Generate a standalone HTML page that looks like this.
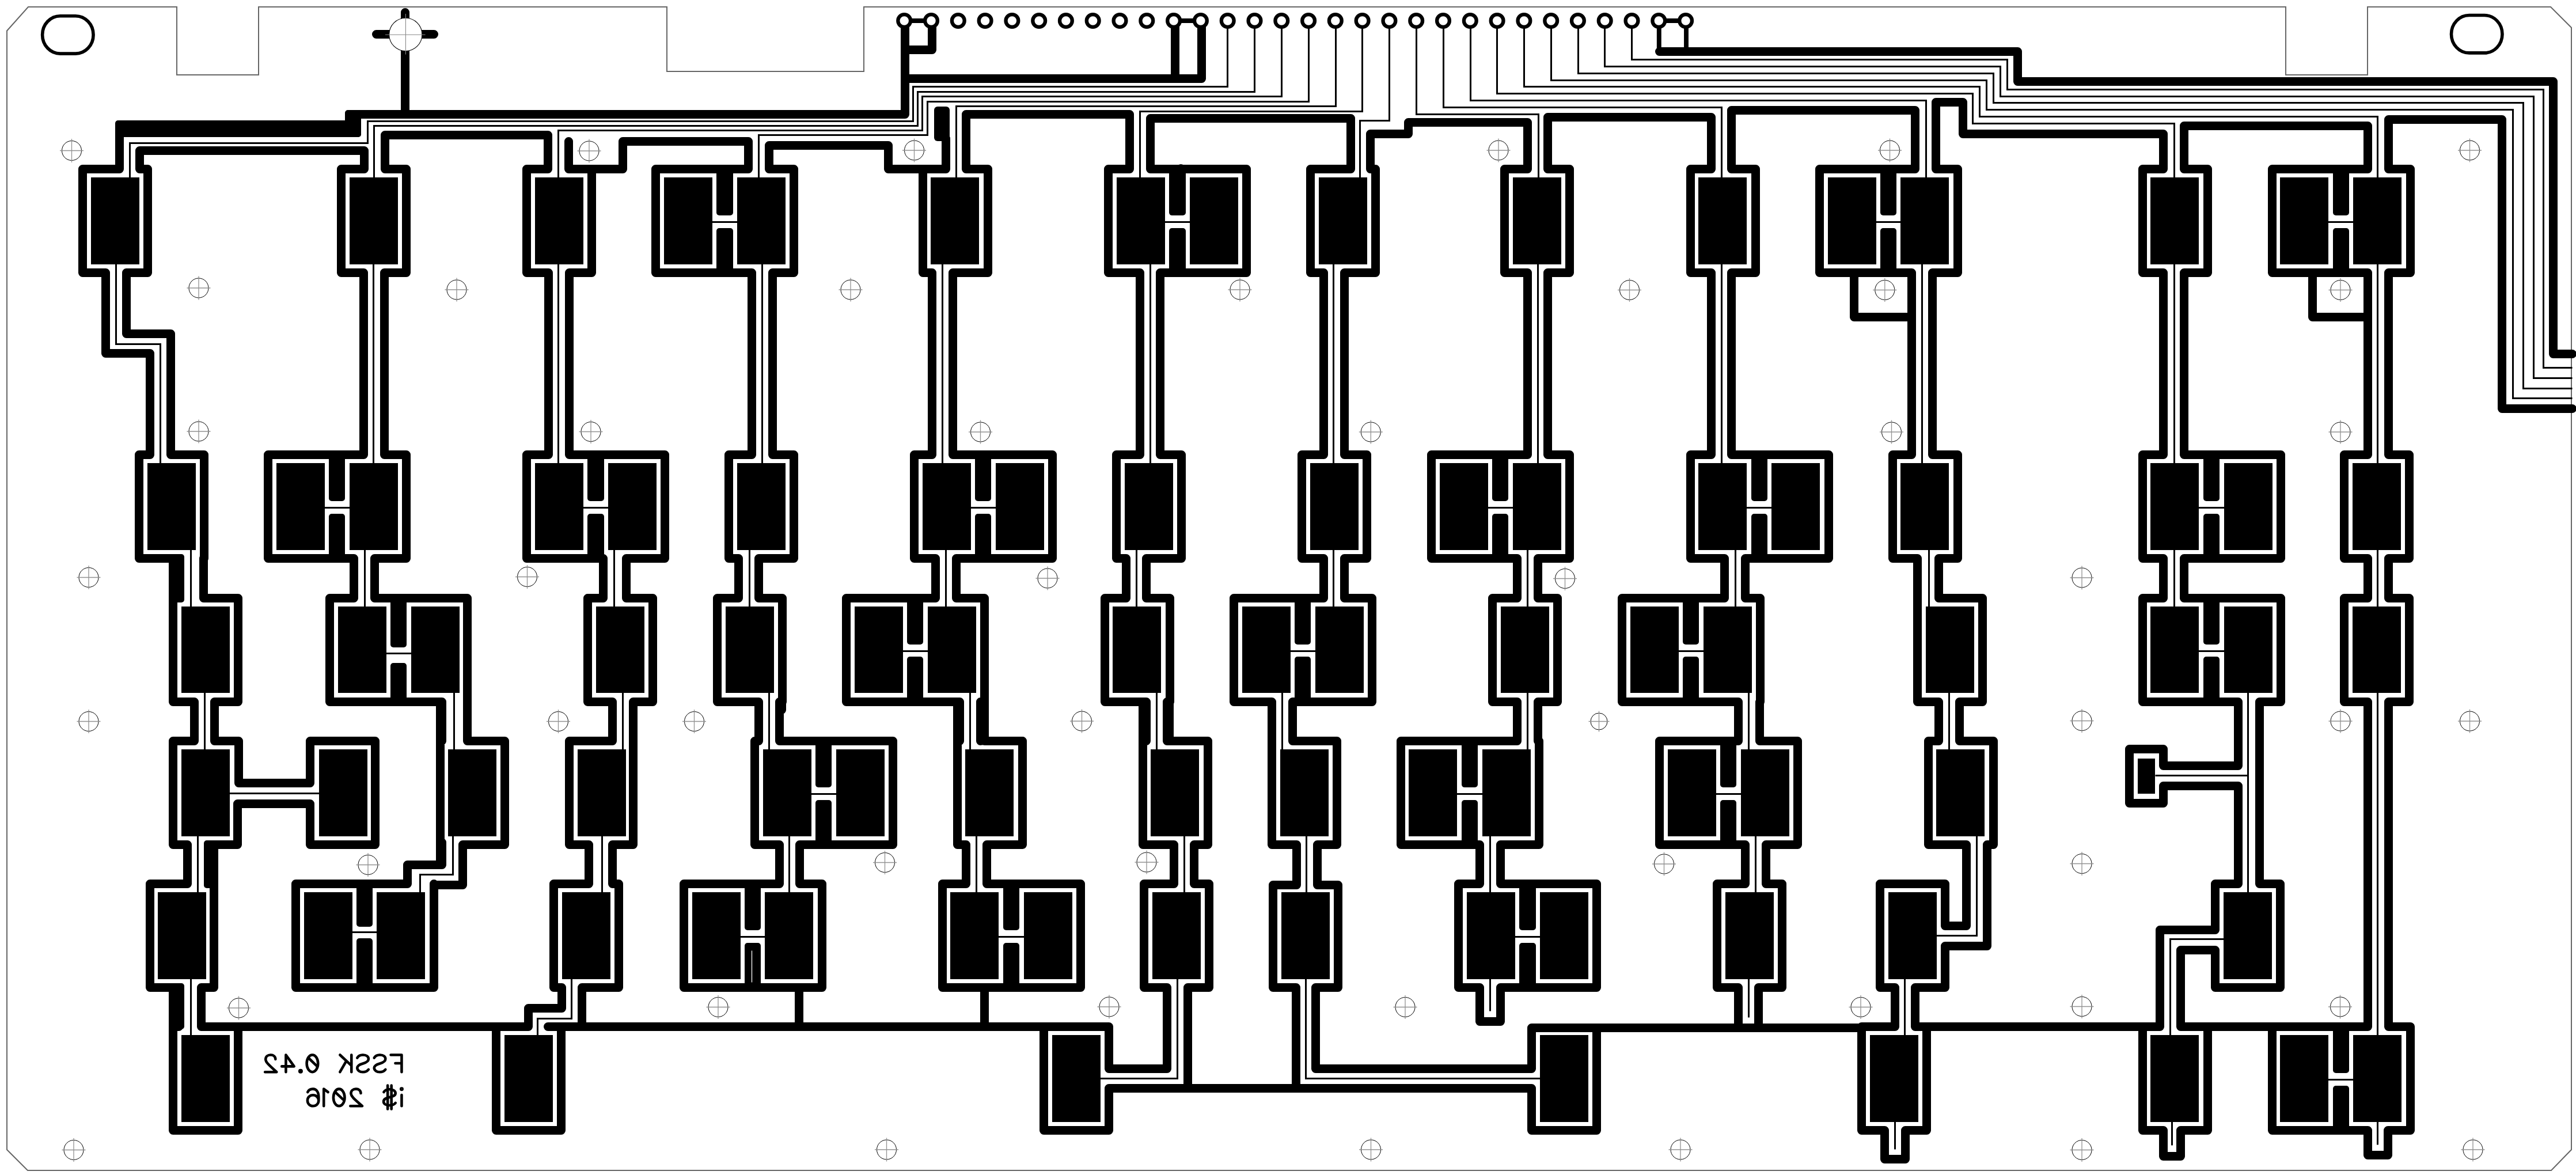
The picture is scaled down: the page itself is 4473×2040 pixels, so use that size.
<!DOCTYPE html>
<html><head><meta charset="utf-8"><title>FSSK 0.42</title>
<style>
html,body{margin:0;padding:0;background:#fff;}
body{width:4473px;height:2040px;overflow:hidden;font-family:"Liberation Sans",sans-serif;}
svg{display:block;}
</style></head><body>
<svg width="4473" height="2040" viewBox="0 0 4473 2040">
<rect width="4473" height="2040" fill="#fff"/>
<path d="M12 53.5L49 12L307 12L307 130L449 130L449 12L1158 12L1158 124L1500 124L1500 12L3969 12L3969 130L4111 130L4111 12L4429 12L4465 48L4465 1996L4430 2032L48 2032L12 1996Z" fill="none" stroke="#666" stroke-width="2"/>
<g fill="none" stroke="#000" stroke-width="15.0" stroke-linecap="round" stroke-linejoin="round">
<path d="M143.5 293.5L207.5 293.5M242.5 293.5L256.5 293.5M143.5 473.5L183.5 473.5M219.5 473.5L256.5 473.5M143.5 293.5L143.5 473.5M256.5 293.5L256.5 473.5M592.5 293.5L632.5 293.5M668.5 293.5L705.5 293.5M592.5 473.5L631.5 473.5M667.5 473.5L705.5 473.5M592.5 293.5L592.5 473.5M705.5 293.5L705.5 473.5M914.5 293.5L951.5 293.5M987.5 293.5L1027.5 293.5M914.5 473.5L952.5 473.5M988.5 473.5L1027.5 473.5M914.5 293.5L914.5 473.5M1027.5 293.5L1027.5 473.5M1138.5 293.5L1299.5 293.5M1335.5 293.5L1378.5 293.5M1138.5 473.5L1305.5 473.5M1341.5 473.5L1378.5 473.5M1138.5 293.5L1138.5 473.5M1378.5 293.5L1378.5 473.5M1602.5 293.5L1642.5 293.5M1677.5 293.5L1715.5 293.5M1602.5 473.5L1618.5 473.5M1654.5 473.5L1715.5 473.5M1602.5 293.5L1602.5 473.5M1715.5 293.5L1715.5 473.5M1924.5 293.5L1961.5 293.5M1997.5 293.5L2164.5 293.5M1924.5 473.5L1979.5 473.5M2014.5 473.5L2164.5 473.5M1924.5 293.5L1924.5 473.5M2164.5 293.5L2164.5 473.5M2275.5 293.5L2345.5 293.5M2379.5 293.5L2388.5 293.5M2275.5 473.5L2298.5 473.5M2334.5 473.5L2388.5 473.5M2275.5 293.5L2275.5 473.5M2388.5 293.5L2388.5 473.5M2612.5 293.5L2652.5 293.5M2687.5 293.5L2725.5 293.5M2612.5 473.5L2652.5 473.5M2687.5 473.5L2725.5 473.5M2612.5 293.5L2612.5 473.5M2725.5 293.5L2725.5 473.5M2935.5 293.5L2971.5 293.5M3006.5 293.5L3048.5 293.5M2935.5 473.5L2971.5 473.5M3006.5 473.5L3048.5 473.5M2935.5 293.5L2935.5 473.5M3048.5 293.5L3048.5 473.5M3159.5 293.5L3325.5 293.5M3361.5 293.5L3399.5 293.5M3159.5 473.5L3319.5 473.5M3355.5 473.5L3399.5 473.5M3159.5 293.5L3159.5 473.5M3399.5 293.5L3399.5 473.5M3720.5 293.5L3756.5 293.5M3792.5 293.5L3833.5 293.5M3720.5 473.5L3756.5 473.5M3792.5 473.5L3833.5 473.5M3720.5 293.5L3720.5 473.5M3833.5 293.5L3833.5 473.5M3945.5 293.5L4111.5 293.5M4147.5 293.5L4185.5 293.5M3945.5 473.5L4111.5 473.5M4147.5 473.5L4185.5 473.5M3945.5 293.5L3945.5 473.5M4185.5 293.5L4185.5 473.5M207.5 228.5L207.5 293.5M606.5 225.5L606.5 198.5L1571.5 198.5L1571.5 36.5M703.5 198.5L703.5 21.5M653.5 59.5L753.5 59.5M242.5 293.5L242.5 261.5L632.5 261.5L632.5 293.5M668.5 293.5L668.5 234.5L951.5 234.5L951.5 293.5M987.5 245.5L987.5 293.5L1081.5 293.5L1081.5 245.5L1299.5 245.5L1299.5 293.5M1335.5 293.5L1335.5 252.5L1542.5 252.5L1542.5 293.5L1642.5 293.5L1642.5 240.5M1677.5 293.5L1677.5 198.5L1961.5 198.5L1961.5 293.5M1997.5 293.5L1997.5 205.5L2345.5 205.5L2345.5 293.5M2379.5 293.5L2379.5 232.5L2445.5 232.5L2445.5 212.5L2652.5 212.5L2652.5 293.5M2687.5 293.5L2687.5 203.5L2971.5 203.5L2971.5 293.5M3006.5 293.5L3006.5 191.5L3325.5 191.5L3325.5 293.5M3361.5 293.5L3361.5 177.5L3408.5 177.5L3408.5 232.5L3756.5 232.5L3756.5 293.5M3792.5 293.5L3792.5 218.5L4111.5 218.5L4111.5 293.5M4147.5 293.5L4147.5 207.5L4344.5 207.5L4344.5 709.5L4466.5 709.5M2881.5 89.5L3503.5 89.5L3503.5 141.5L4433.5 141.5L4433.5 614.5L4466.5 614.5M1571.5 36.5L1571.5 136.5M1618.5 36.5L1618.5 86.5L1571.5 86.5M1571.5 136.5L2086.5 136.5L2086.5 36.5M2040.5 36.5L2040.5 136.5M183.5 473.5L183.5 613.5L260.5 613.5L260.5 789.5M219.5 473.5L219.5 579.5L296.5 579.5L296.5 789.5M631.5 473.5L631.5 789.5M667.5 473.5L667.5 789.5M952.5 473.5L952.5 789.5M988.5 473.5L988.5 789.5M1305.5 473.5L1305.5 789.5M1341.5 473.5L1341.5 789.5M1618.5 473.5L1618.5 789.5M1654.5 473.5L1654.5 789.5M1979.5 473.5L1979.5 789.5M2014.5 473.5L2014.5 789.5M2298.5 473.5L2298.5 789.5M2334.5 473.5L2334.5 789.5M2652.5 473.5L2652.5 789.5M2687.5 473.5L2687.5 789.5M2971.5 473.5L2971.5 789.5M3006.5 473.5L3006.5 789.5M3319.5 473.5L3319.5 789.5M3355.5 473.5L3355.5 789.5M3756.5 473.5L3756.5 789.5M3792.5 473.5L3792.5 789.5M4111.5 473.5L4111.5 789.5M4147.5 473.5L4147.5 789.5M3219.5 473.5L3219.5 550.5L3319.5 550.5M4015.5 473.5L4015.5 550.5L4111.5 550.5M241.5 789.5L260.5 789.5M296.5 789.5L354.5 789.5M241.5 969.5L310.5 969.5M353.5 969.5L354.5 969.5M241.5 789.5L241.5 969.5M354.5 789.5L354.5 969.5M465.5 789.5L631.5 789.5M667.5 789.5L705.5 789.5M465.5 969.5L614.5 969.5M650.5 969.5L705.5 969.5M465.5 789.5L465.5 969.5M705.5 789.5L705.5 969.5M914.5 789.5L952.5 789.5M988.5 789.5L1154.5 789.5M914.5 969.5L1047.5 969.5M1087.5 969.5L1154.5 969.5M914.5 789.5L914.5 969.5M1154.5 789.5L1154.5 969.5M1265.5 789.5L1305.5 789.5M1341.5 789.5L1378.5 789.5M1265.5 969.5L1282.5 969.5M1317.5 969.5L1378.5 969.5M1265.5 789.5L1265.5 969.5M1378.5 789.5L1378.5 969.5M1587.5 789.5L1618.5 789.5M1654.5 789.5L1827.5 789.5M1587.5 969.5L1624.5 969.5M1660.5 969.5L1827.5 969.5M1587.5 789.5L1587.5 969.5M1827.5 789.5L1827.5 969.5M1938.5 789.5L1979.5 789.5M2014.5 789.5L2051.5 789.5M1938.5 969.5L1955.5 969.5M1990.5 969.5L2051.5 969.5M1938.5 789.5L1938.5 969.5M2051.5 789.5L2051.5 969.5M2260.5 789.5L2298.5 789.5M2334.5 789.5L2373.5 789.5M2260.5 969.5L2298.5 969.5M2334.5 969.5L2373.5 969.5M2260.5 789.5L2260.5 969.5M2373.5 789.5L2373.5 969.5M2485.5 789.5L2652.5 789.5M2687.5 789.5L2725.5 789.5M2485.5 969.5L2634.5 969.5M2670.5 969.5L2725.5 969.5M2485.5 789.5L2485.5 969.5M2725.5 789.5L2725.5 969.5M2935.5 789.5L2971.5 789.5M3006.5 789.5L3175.5 789.5M2935.5 969.5L2994.5 969.5M3030.5 969.5L3175.5 969.5M2935.5 789.5L2935.5 969.5M3175.5 789.5L3175.5 969.5M3286.5 789.5L3319.5 789.5M3355.5 789.5L3399.5 789.5M3286.5 969.5L3329.5 969.5M3366.5 969.5L3399.5 969.5M3286.5 789.5L3286.5 969.5M3399.5 789.5L3399.5 969.5M3720.5 789.5L3756.5 789.5M3792.5 789.5L3960.5 789.5M3720.5 969.5L3756.5 969.5M3792.5 969.5L3960.5 969.5M3720.5 789.5L3720.5 969.5M3960.5 789.5L3960.5 969.5M4070.5 789.5L4111.5 789.5M4147.5 789.5L4183.5 789.5M4070.5 969.5L4111.5 969.5M4147.5 969.5L4183.5 969.5M4070.5 789.5L4070.5 969.5M4183.5 789.5L4183.5 969.5M353.5 969.5L353.5 1038.5M614.5 969.5L614.5 1038.5M650.5 969.5L650.5 1038.5M1047.5 969.5L1047.5 1038.5M1087.5 969.5L1087.5 1038.5M1282.5 969.5L1282.5 1038.5M1317.5 969.5L1317.5 1038.5M1624.5 969.5L1624.5 1038.5M1660.5 969.5L1660.5 1038.5M1955.5 969.5L1955.5 1038.5M1990.5 969.5L1990.5 1038.5M2298.5 969.5L2298.5 1038.5M2334.5 969.5L2334.5 1038.5M2634.5 969.5L2634.5 1038.5M2670.5 969.5L2670.5 1038.5M2994.5 969.5L2994.5 1038.5M3030.5 969.5L3030.5 1038.5M3329.5 969.5L3329.5 1038.5M3366.5 969.5L3366.5 1038.5M3756.5 969.5L3756.5 1038.5M3792.5 969.5L3792.5 1038.5M4111.5 969.5L4111.5 1038.5M4147.5 969.5L4147.5 1038.5M300.5 1038.5L310.5 1038.5M353.5 1038.5L413.5 1038.5M300.5 1218.5L337.5 1218.5M372.5 1218.5L413.5 1218.5M300.5 1038.5L300.5 1218.5M413.5 1038.5L413.5 1218.5M572.5 1038.5L614.5 1038.5M650.5 1038.5L811.5 1038.5M572.5 1218.5L767.5 1218.5M572.5 1038.5L572.5 1218.5M811.5 1038.5L811.5 1218.5M1020.5 1038.5L1047.5 1038.5M1087.5 1038.5L1133.5 1038.5M1020.5 1218.5L1063.5 1218.5M1099.5 1218.5L1133.5 1218.5M1020.5 1038.5L1020.5 1218.5M1133.5 1038.5L1133.5 1218.5M1245.5 1038.5L1282.5 1038.5M1317.5 1038.5L1358.5 1038.5M1245.5 1218.5L1317.5 1218.5M1353.5 1218.5L1358.5 1218.5M1245.5 1038.5L1245.5 1218.5M1358.5 1038.5L1358.5 1218.5M1469.5 1038.5L1624.5 1038.5M1660.5 1038.5L1709.5 1038.5M1469.5 1218.5L1666.5 1218.5M1702.5 1218.5L1709.5 1218.5M1469.5 1038.5L1469.5 1218.5M1709.5 1038.5L1709.5 1218.5M1918.5 1038.5L1955.5 1038.5M1990.5 1038.5L2031.5 1038.5M1918.5 1218.5L1990.5 1218.5M2026.5 1218.5L2031.5 1218.5M1918.5 1038.5L1918.5 1218.5M2031.5 1038.5L2031.5 1218.5M2142.5 1038.5L2298.5 1038.5M2334.5 1038.5L2382.5 1038.5M2142.5 1218.5L2208.5 1218.5M2244.5 1218.5L2382.5 1218.5M2142.5 1038.5L2142.5 1218.5M2382.5 1038.5L2382.5 1218.5M2591.5 1038.5L2634.5 1038.5M2670.5 1038.5L2704.5 1038.5M2591.5 1218.5L2634.5 1218.5M2670.5 1218.5L2704.5 1218.5M2591.5 1038.5L2591.5 1218.5M2704.5 1038.5L2704.5 1218.5M2816.5 1038.5L2994.5 1038.5M3030.5 1038.5L3056.5 1038.5M2816.5 1218.5L3018.5 1218.5M3055.5 1218.5L3056.5 1218.5M2816.5 1038.5L2816.5 1218.5M3056.5 1038.5L3056.5 1218.5M3366.5 1038.5L3442.5 1038.5M3329.5 1218.5L3366.5 1218.5M3402.5 1218.5L3442.5 1218.5M3329.5 1038.5L3329.5 1218.5M3442.5 1038.5L3442.5 1218.5M3720.5 1038.5L3756.5 1038.5M3792.5 1038.5L3960.5 1038.5M3720.5 1218.5L3886.5 1218.5M3923.5 1218.5L3960.5 1218.5M3720.5 1038.5L3720.5 1218.5M3960.5 1038.5L3960.5 1218.5M4070.5 1038.5L4111.5 1038.5M4147.5 1038.5L4183.5 1038.5M4070.5 1218.5L4111.5 1218.5M4147.5 1218.5L4183.5 1218.5M4070.5 1038.5L4070.5 1218.5M4183.5 1038.5L4183.5 1218.5M337.5 1218.5L337.5 1286.5M372.5 1218.5L372.5 1286.5M1063.5 1218.5L1063.5 1286.5M1099.5 1218.5L1099.5 1286.5M1317.5 1218.5L1317.5 1286.5M1353.5 1218.5L1353.5 1286.5M1666.5 1218.5L1666.5 1286.5M1702.5 1218.5L1702.5 1286.5M1990.5 1218.5L1990.5 1286.5M2026.5 1218.5L2026.5 1286.5M2208.5 1218.5L2208.5 1286.5M2244.5 1218.5L2244.5 1286.5M2634.5 1218.5L2634.5 1286.5M2670.5 1218.5L2670.5 1286.5M3018.5 1218.5L3018.5 1286.5M3055.5 1218.5L3055.5 1286.5M3366.5 1218.5L3366.5 1286.5M3402.5 1218.5L3402.5 1286.5M767.5 1218.5L767.5 1286.5M764.5 1218.5L764.5 1286.5M811.5 1218.5L811.5 1286.5L876.5 1286.5M1357.5 1218.5L1357.5 1232.5M1709.5 1218.5L1709.5 1286.5M1662.5 1218.5L1662.5 1286.5M2030.5 1218.5L2030.5 1286.5M1984.5 1218.5L1984.5 1286.5M3886.5 1218.5L3886.5 1329.5L3756.5 1329.5L3756.5 1300.5L3697.5 1300.5L3697.5 1394.5L3756.5 1394.5L3756.5 1364.5L3886.5 1364.5L3886.5 1534.5M3923.5 1218.5L3923.5 1534.5M4111.5 1218.5L4111.5 1782.5M4147.5 1218.5L4147.5 1782.5M337.5 1286.5L300.5 1286.5L300.5 1466.5L325.5 1466.5M372.5 1286.5L414.5 1286.5L414.5 1359.5L538.5 1359.5L538.5 1286.5L651.5 1286.5L651.5 1466.5L538.5 1466.5L538.5 1395.5L412.5 1395.5L412.5 1466.5L363.5 1466.5M764.5 1286.5L767.5 1286.5M803.5 1466.5L876.5 1466.5M764.5 1286.5L764.5 1466.5M876.5 1286.5L876.5 1466.5M811.5 1286.5L876.5 1286.5M988.5 1286.5L1063.5 1286.5M988.5 1466.5L1022.5 1466.5M1063.5 1466.5L1099.5 1466.5M988.5 1286.5L988.5 1466.5M1099.5 1286.5L1099.5 1466.5M1353.5 1286.5L1550.5 1286.5M1310.5 1466.5L1353.5 1466.5M1388.5 1466.5L1550.5 1466.5M1310.5 1286.5L1310.5 1466.5M1550.5 1286.5L1550.5 1466.5M1662.5 1286.5L1666.5 1286.5M1709.5 1286.5L1775.5 1286.5M1662.5 1466.5L1677.5 1466.5M1713.5 1466.5L1775.5 1466.5M1662.5 1286.5L1662.5 1466.5M1775.5 1286.5L1775.5 1466.5M1984.5 1286.5L1990.5 1286.5M2030.5 1286.5L2097.5 1286.5M1984.5 1466.5L2038.5 1466.5M2073.5 1466.5L2097.5 1466.5M1984.5 1286.5L1984.5 1466.5M2097.5 1286.5L2097.5 1466.5M2244.5 1286.5L2321.5 1286.5M2208.5 1466.5L2251.5 1466.5M2287.5 1466.5L2321.5 1466.5M2208.5 1286.5L2208.5 1466.5M2321.5 1286.5L2321.5 1466.5M2432.5 1286.5L2634.5 1286.5M2670.5 1286.5L2672.5 1286.5M2432.5 1466.5L2569.5 1466.5M2605.5 1466.5L2672.5 1466.5M2432.5 1286.5L2432.5 1466.5M2672.5 1286.5L2672.5 1466.5M2881.5 1286.5L3018.5 1286.5M3055.5 1286.5L3121.5 1286.5M2881.5 1466.5L3030.5 1466.5M3066.5 1466.5L3121.5 1466.5M2881.5 1286.5L2881.5 1466.5M3121.5 1286.5L3121.5 1466.5M3348.5 1286.5L3366.5 1286.5M3402.5 1286.5L3461.5 1286.5M3348.5 1466.5L3414.5 1466.5M3450.5 1466.5L3461.5 1466.5M3348.5 1286.5L3348.5 1466.5M3461.5 1286.5L3461.5 1466.5M325.5 1466.5L325.5 1534.5M1022.5 1466.5L1022.5 1534.5M1063.5 1466.5L1063.5 1534.5M1353.5 1466.5L1353.5 1534.5M1388.5 1466.5L1388.5 1534.5M1677.5 1466.5L1677.5 1534.5M1713.5 1466.5L1713.5 1534.5M2038.5 1466.5L2038.5 1534.5M2073.5 1466.5L2073.5 1534.5M2251.5 1466.5L2251.5 1534.5M2287.5 1466.5L2287.5 1534.5M2569.5 1466.5L2569.5 1534.5M2605.5 1466.5L2605.5 1534.5M3030.5 1466.5L3030.5 1534.5M3066.5 1466.5L3066.5 1534.5M764.5 1466.5L764.5 1501.5L707.5 1501.5L707.5 1534.5M767.5 1462.5L767.5 1501.5M803.5 1466.5L803.5 1536.5L753.5 1536.5M3414.5 1466.5L3414.5 1607.5L3378.5 1607.5M3450.5 1466.5L3450.5 1642.5L3378.5 1642.5M260.5 1534.5L325.5 1534.5M366.5 1534.5L371.5 1534.5M260.5 1714.5L310.5 1714.5M349.5 1714.5L371.5 1714.5M260.5 1534.5L260.5 1714.5M371.5 1534.5L371.5 1714.5M513.5 1534.5L707.5 1534.5M513.5 1714.5L753.5 1714.5M513.5 1534.5L513.5 1714.5M753.5 1534.5L753.5 1714.5M961.5 1534.5L1022.5 1534.5M1063.5 1534.5L1074.5 1534.5M961.5 1714.5L975.5 1714.5M1010.5 1714.5L1074.5 1714.5M961.5 1534.5L961.5 1714.5M1074.5 1534.5L1074.5 1714.5M1187.5 1534.5L1353.5 1534.5M1388.5 1534.5L1427.5 1534.5M1187.5 1714.5L1427.5 1714.5M1187.5 1534.5L1187.5 1714.5M1427.5 1534.5L1427.5 1714.5M1636.5 1534.5L1677.5 1534.5M1713.5 1534.5L1876.5 1534.5M1636.5 1714.5L1876.5 1714.5M1636.5 1534.5L1636.5 1714.5M1876.5 1534.5L1876.5 1714.5M1986.5 1534.5L2038.5 1534.5M2073.5 1534.5L2099.5 1534.5M1986.5 1714.5L2026.5 1714.5M2062.5 1714.5L2099.5 1714.5M1986.5 1534.5L1986.5 1714.5M2099.5 1534.5L2099.5 1714.5M2210.5 1536.5L2251.5 1536.5M2287.5 1536.5L2323.5 1536.5M2210.5 1714.5L2250.5 1714.5M2284.5 1714.5L2323.5 1714.5M2210.5 1536.5L2210.5 1714.5M2323.5 1536.5L2323.5 1714.5M2251.5 1534.5L2251.5 1536.5M2287.5 1534.5L2287.5 1536.5M2532.5 1534.5L2569.5 1534.5M2605.5 1534.5L2772.5 1534.5M2532.5 1714.5L2569.5 1714.5M2605.5 1714.5L2772.5 1714.5M2532.5 1534.5L2532.5 1714.5M2772.5 1534.5L2772.5 1714.5M2981.5 1534.5L3030.5 1534.5M3066.5 1534.5L3094.5 1534.5M2981.5 1714.5L3018.5 1714.5M3053.5 1714.5L3094.5 1714.5M2981.5 1534.5L2981.5 1714.5M3094.5 1534.5L3094.5 1714.5M3264.5 1534.5L3377.5 1534.5M3264.5 1714.5L3290.5 1714.5M3325.5 1714.5L3377.5 1714.5M3264.5 1534.5L3264.5 1714.5M3377.5 1534.5L3377.5 1607.5M3377.5 1642.5L3377.5 1714.5M3846.5 1534.5L3886.5 1534.5M3923.5 1534.5L3959.5 1534.5M3846.5 1714.5L3959.5 1714.5M3846.5 1534.5L3846.5 1614.5M3846.5 1649.5L3846.5 1714.5M3959.5 1534.5L3959.5 1714.5M349.5 1714.5L349.5 1782.5L917.5 1782.5M975.5 1714.5L975.5 1750.5L917.5 1750.5L917.5 1782.5M1010.5 1714.5L1010.5 1782.5M951.5 1782.5L1925.5 1782.5M1387.5 1714.5L1387.5 1782.5M1709.5 1714.5L1709.5 1782.5M2026.5 1714.5L2026.5 1855.5L1925.5 1855.5M2062.5 1714.5L2062.5 1889.5M2250.5 1714.5L2250.5 1889.5M2284.5 1714.5L2284.5 1855.5L2659.5 1855.5M1925.5 1889.5L2659.5 1889.5M2569.5 1714.5L2569.5 1773.5L2605.5 1773.5L2605.5 1714.5M3018.5 1714.5L3018.5 1784.5M3053.5 1714.5L3053.5 1784.5M3290.5 1714.5L3290.5 1782.5M3325.5 1714.5L3325.5 1782.5M2659.5 1784.5L3232.5 1784.5M3232.5 1782.5L3290.5 1782.5M3325.5 1782.5L3750.5 1782.5L3750.5 1614.5L3846.5 1614.5M3846.5 1649.5L3786.5 1649.5L3786.5 1782.5L4111.5 1782.5M300.5 1782.5L310.5 1782.5M349.5 1782.5L413.5 1782.5M300.5 1962.5L413.5 1962.5M300.5 1782.5L300.5 1962.5M413.5 1782.5L413.5 1962.5M861.5 1782.5L917.5 1782.5M951.5 1782.5L974.5 1782.5M861.5 1962.5L974.5 1962.5M861.5 1782.5L861.5 1962.5M974.5 1782.5L974.5 1962.5M1812.5 1782.5L1925.5 1782.5M1812.5 1962.5L1925.5 1962.5M1812.5 1782.5L1812.5 1962.5M1925.5 1782.5L1925.5 1855.5M1925.5 1889.5L1925.5 1962.5M2659.5 1784.5L2772.5 1784.5M2659.5 1962.5L2772.5 1962.5M2659.5 1784.5L2659.5 1855.5M2659.5 1889.5L2659.5 1962.5M2772.5 1784.5L2772.5 1962.5M3232.5 1782.5L3290.5 1782.5M3325.5 1782.5L3345.5 1782.5M3232.5 1962.5L3272.5 1962.5M3308.5 1962.5L3345.5 1962.5M3232.5 1782.5L3232.5 1962.5M3345.5 1782.5L3345.5 1962.5M3720.5 1782.5L3750.5 1782.5M3786.5 1782.5L3833.5 1782.5M3720.5 1962.5L3756.5 1962.5M3786.5 1962.5L3833.5 1962.5M3720.5 1782.5L3720.5 1962.5M3833.5 1782.5L3833.5 1962.5M3945.5 1782.5L4111.5 1782.5M4147.5 1782.5L4185.5 1782.5M3945.5 1962.5L4111.5 1962.5M4146.5 1962.5L4185.5 1962.5M3945.5 1782.5L3945.5 1962.5M4185.5 1782.5L4185.5 1962.5M3272.5 1962.5L3272.5 2012.5L3308.5 2012.5L3308.5 1962.5M3756.5 1962.5L3756.5 2007.5L3786.5 2007.5L3786.5 1962.5M4111.5 1962.5L4111.5 2005.5L4146.5 2005.5L4146.5 1962.5"/>
</g>
<g fill="#000">
<rect x="158" y="308" width="84" height="151"/><rect x="607" y="308" width="84" height="151"/><rect x="929" y="308" width="84" height="151"/><rect x="1153" y="308" width="84" height="151"/><rect x="1280" y="308" width="84" height="151"/><rect x="1244" y="288" width="29" height="86" rx="5"/><rect x="1244" y="396" width="29" height="80" rx="5"/><rect x="1616" y="308" width="84" height="151"/><rect x="1939" y="308" width="84" height="151"/><rect x="2066" y="308" width="84" height="151"/><rect x="2030" y="288" width="29" height="86" rx="5"/><rect x="2030" y="396" width="29" height="80" rx="5"/><rect x="2290" y="308" width="84" height="151"/><rect x="2627" y="308" width="84" height="151"/><rect x="2949" y="308" width="84" height="151"/><rect x="3174" y="308" width="84" height="151"/><rect x="3300" y="308" width="84" height="151"/><rect x="3265" y="288" width="28" height="86" rx="5"/><rect x="3265" y="396" width="28" height="80" rx="5"/><rect x="3734" y="308" width="84" height="151"/><rect x="3959" y="308" width="84" height="151"/><rect x="4086" y="308" width="84" height="151"/><rect x="4051" y="288" width="28" height="86" rx="5"/><rect x="4051" y="396" width="28" height="80" rx="5"/><rect x="200" y="209" width="427" height="29" rx="5"/><rect x="599" y="191" width="28" height="47" rx="5"/><rect x="1622" y="185" width="27" height="60" rx="6"/><rect x="256" y="804" width="84" height="151"/><rect x="480" y="804" width="84" height="151"/><rect x="607" y="804" width="84" height="151"/><rect x="571" y="784" width="28" height="86" rx="5"/><rect x="571" y="892" width="28" height="80" rx="5"/><rect x="929" y="804" width="84" height="151"/><rect x="1056" y="804" width="84" height="151"/><rect x="1020" y="784" width="29" height="86" rx="5"/><rect x="1020" y="892" width="29" height="80" rx="5"/><rect x="1280" y="804" width="84" height="151"/><rect x="1602" y="804" width="84" height="151"/><rect x="1729" y="804" width="84" height="151"/><rect x="1693" y="784" width="28" height="86" rx="5"/><rect x="1693" y="892" width="28" height="80" rx="5"/><rect x="1953" y="804" width="84" height="151"/><rect x="2275" y="804" width="84" height="151"/><rect x="2500" y="804" width="84" height="151"/><rect x="2627" y="804" width="84" height="151"/><rect x="2591" y="784" width="28" height="86" rx="5"/><rect x="2591" y="892" width="28" height="80" rx="5"/><rect x="2949" y="804" width="84" height="151"/><rect x="3076" y="804" width="84" height="151"/><rect x="3041" y="784" width="28" height="86" rx="5"/><rect x="3041" y="892" width="28" height="80" rx="5"/><rect x="3300" y="804" width="84" height="151"/><rect x="3734" y="804" width="84" height="151"/><rect x="3862" y="804" width="84" height="151"/><rect x="3826" y="784" width="28" height="86" rx="5"/><rect x="3826" y="892" width="28" height="80" rx="5"/><rect x="4085" y="804" width="84" height="151"/><rect x="293" y="962" width="27" height="84" rx="5"/><rect x="315" y="1053" width="84" height="150"/><rect x="587" y="1053" width="84" height="150"/><rect x="714" y="1053" width="84" height="150"/><rect x="678" y="1033" width="28" height="91" rx="5"/><rect x="678" y="1151" width="28" height="70" rx="5"/><rect x="1035" y="1053" width="84" height="150"/><rect x="1260" y="1053" width="84" height="150"/><rect x="1484" y="1053" width="84" height="150"/><rect x="1611" y="1053" width="84" height="150"/><rect x="1575" y="1033" width="28" height="86" rx="5"/><rect x="1575" y="1140" width="28" height="81" rx="5"/><rect x="1932" y="1053" width="84" height="150"/><rect x="2157" y="1053" width="84" height="150"/><rect x="2284" y="1053" width="84" height="150"/><rect x="2248" y="1033" width="28" height="86" rx="5"/><rect x="2248" y="1140" width="28" height="81" rx="5"/><rect x="2606" y="1053" width="84" height="150"/><rect x="2831" y="1053" width="84" height="150"/><rect x="2958" y="1053" width="84" height="150"/><rect x="2922" y="1033" width="28" height="86" rx="5"/><rect x="2922" y="1140" width="28" height="81" rx="5"/><rect x="3344" y="1053" width="84" height="150"/><rect x="3734" y="1053" width="84" height="150"/><rect x="3862" y="1053" width="84" height="150"/><rect x="3826" y="1033" width="28" height="86" rx="5"/><rect x="3826" y="1140" width="28" height="81" rx="5"/><rect x="4085" y="1053" width="84" height="150"/><rect x="3712" y="1317" width="30" height="61"/><rect x="315" y="1301" width="84" height="151"/><rect x="554" y="1301" width="84" height="151"/><rect x="778" y="1301" width="84" height="151"/><rect x="1003" y="1301" width="84" height="151"/><rect x="1325" y="1301" width="84" height="151"/><rect x="1452" y="1301" width="84" height="151"/><rect x="1416" y="1281" width="28" height="86" rx="5"/><rect x="1416" y="1389" width="28" height="80" rx="5"/><rect x="1676" y="1301" width="84" height="151"/><rect x="1998" y="1301" width="84" height="151"/><rect x="2223" y="1301" width="84" height="151"/><rect x="2446" y="1301" width="84" height="151"/><rect x="2574" y="1301" width="84" height="151"/><rect x="2538" y="1281" width="28" height="86" rx="5"/><rect x="2538" y="1389" width="28" height="80" rx="5"/><rect x="2896" y="1301" width="84" height="151"/><rect x="3023" y="1301" width="84" height="151"/><rect x="2987" y="1281" width="28" height="86" rx="5"/><rect x="2987" y="1389" width="28" height="80" rx="5"/><rect x="3362" y="1301" width="84" height="151"/><rect x="354" y="1459" width="25" height="83" rx="5"/><rect x="274" y="1549" width="84" height="151"/><rect x="528" y="1549" width="84" height="151"/><rect x="654" y="1549" width="84" height="151"/><rect x="619" y="1529" width="28" height="80" rx="5"/><rect x="619" y="1629" width="28" height="88" rx="5"/><rect x="976" y="1549" width="84" height="151"/><rect x="1202" y="1549" width="84" height="151"/><rect x="1328" y="1549" width="84" height="151"/><rect x="1293" y="1529" width="28" height="86" rx="5"/><rect x="1293" y="1637" width="28" height="80" rx="5"/><rect x="1650" y="1549" width="84" height="151"/><rect x="1778" y="1549" width="84" height="151"/><rect x="1742" y="1529" width="28" height="86" rx="5"/><rect x="1742" y="1637" width="28" height="80" rx="5"/><rect x="2001" y="1549" width="84" height="151"/><rect x="2225" y="1549" width="84" height="151"/><rect x="2547" y="1549" width="84" height="151"/><rect x="2674" y="1549" width="84" height="151"/><rect x="2638" y="1529" width="29" height="86" rx="5"/><rect x="2638" y="1637" width="29" height="80" rx="5"/><rect x="2996" y="1549" width="84" height="151"/><rect x="3279" y="1549" width="84" height="151"/><rect x="3861" y="1549" width="84" height="151"/><rect x="293" y="1707" width="27" height="80" rx="5"/><rect x="315" y="1797" width="84" height="151"/><rect x="876" y="1797" width="84" height="151"/><rect x="1827" y="1797" width="84" height="151"/><rect x="2674" y="1797" width="84" height="151"/><rect x="3247" y="1797" width="84" height="151"/><rect x="3734" y="1797" width="84" height="151"/><rect x="3959" y="1797" width="84" height="151"/><rect x="4086" y="1797" width="84" height="151"/><rect x="4051" y="1777" width="28" height="86" rx="5"/><rect x="4051" y="1885" width="28" height="80" rx="5"/>
</g>
<g fill="none" stroke="#000" stroke-width="3.0" stroke-linecap="butt" stroke-linejoin="miter">
<path d="M1236.5 385.5L1281.5 385.5M2022.5 385.5L2067.5 385.5M3256.5 385.5L3301.5 385.5M4042.5 385.5L4087.5 385.5M2131.5 36.5L2131.5 150.5L1585.5 150.5L1585.5 210.5L638.5 210.5L638.5 248.5L225.5 248.5L225.5 309.5M2178.5 36.5L2178.5 159.5L1593.5 159.5L1593.5 218.5L649.5 218.5L649.5 309.5M2225.5 36.5L2225.5 167.5L1601.5 167.5L1601.5 226.5L969.5 226.5L969.5 309.5M2272.5 36.5L2272.5 176.5L1610.5 176.5L1610.5 234.5L1317.5 234.5L1317.5 309.5M2319.5 36.5L2319.5 184.5L1660.5 184.5L1660.5 309.5M2365.5 36.5L2365.5 193.5L1979.5 193.5L1979.5 309.5M2412.5 36.5L2412.5 209.5L2361.5 209.5L2361.5 309.5M2459.5 36.5L2459.5 198.5L2671.5 198.5L2671.5 309.5M2506.5 36.5L2506.5 186.5L2989.5 186.5L2989.5 309.5M2553.5 36.5L2553.5 174.5L3344.5 174.5L3344.5 309.5M2599.5 36.5L2599.5 162.5L3425.5 162.5L3425.5 214.5L3775.5 214.5L3775.5 309.5M2646.5 36.5L2646.5 150.5L3437.5 150.5L3437.5 202.5L4128.5 202.5L4128.5 309.5M2693.5 36.5L2693.5 139.5L3449.5 139.5L3449.5 190.5L4363.5 190.5L4363.5 691.5L4466.5 691.5M2740.5 36.5L2740.5 127.5L3461.5 127.5L3461.5 178.5L4381.5 178.5L4381.5 674.5L4466.5 674.5M2786.5 36.5L2786.5 115.5L3473.5 115.5L3473.5 167.5L4399.5 167.5L4399.5 656.5L4466.5 656.5M2833.5 36.5L2833.5 103.5L3485.5 103.5L3485.5 155.5L4416.5 155.5L4416.5 638.5L4466.5 638.5M201.5 457.5L201.5 597.5L278.5 597.5L278.5 805.5M648.5 457.5L648.5 805.5M969.5 457.5L969.5 805.5M1323.5 457.5L1323.5 805.5M1636.5 457.5L1636.5 805.5M1997.5 457.5L1997.5 805.5M2315.5 457.5L2315.5 805.5M2670.5 457.5L2670.5 805.5M2989.5 457.5L2989.5 805.5M3337.5 457.5L3337.5 805.5M3775.5 457.5L3775.5 805.5M4128.5 457.5L4128.5 805.5M563.5 881.5L608.5 881.5M1012.5 881.5L1057.5 881.5M1685.5 881.5L1730.5 881.5M2583.5 881.5L2628.5 881.5M3032.5 881.5L3077.5 881.5M3817.5 881.5L3862.5 881.5M331.5 953.5L331.5 1053.5M633.5 953.5L633.5 1053.5M1066.5 953.5L1066.5 1053.5M1301.5 953.5L1301.5 1053.5M1642.5 953.5L1642.5 1053.5M1973.5 953.5L1973.5 1053.5M2315.5 953.5L2315.5 1053.5M2652.5 953.5L2652.5 1053.5M3013.5 953.5L3013.5 1053.5M3349.5 953.5L3349.5 1053.5M3775.5 953.5L3775.5 1053.5M4128.5 953.5L4128.5 1053.5M670.5 1134.5L715.5 1134.5M1566.5 1130.5L1611.5 1130.5M2239.5 1130.5L2284.5 1130.5M2914.5 1130.5L2959.5 1130.5M3817.5 1130.5L3862.5 1130.5M355.5 1202.5L355.5 1302.5M1081.5 1202.5L1081.5 1302.5M1335.5 1202.5L1335.5 1302.5M1684.5 1202.5L1684.5 1302.5M2008.5 1202.5L2008.5 1302.5M2226.5 1202.5L2226.5 1302.5M2652.5 1202.5L2652.5 1302.5M3036.5 1202.5L3036.5 1302.5M3384.5 1202.5L3384.5 1302.5M788.5 1202.5L788.5 1302.5M3903.5 1202.5L3903.5 1550.5M3742.5 1346.5L3903.5 1346.5M4128.5 1202.5L4128.5 1798.5M398.5 1377.5L555.5 1377.5M1408.5 1378.5L1453.5 1378.5M2529.5 1378.5L2574.5 1378.5M2978.5 1378.5L3023.5 1378.5M343.5 1450.5L343.5 1550.5M1045.5 1450.5L1045.5 1550.5M1370.5 1450.5L1370.5 1550.5M1695.5 1450.5L1695.5 1550.5M2056.5 1450.5L2056.5 1550.5M2268.5 1450.5L2268.5 1550.5M2587.5 1450.5L2587.5 1550.5M3048.5 1450.5L3048.5 1550.5M786.5 1450.5L786.5 1518.5L729.5 1518.5L729.5 1550.5M3432.5 1450.5L3432.5 1624.5L3362.5 1624.5M610.5 1618.5L655.5 1618.5M1284.5 1626.5L1329.5 1626.5M1733.5 1626.5L1778.5 1626.5M2630.5 1626.5L2675.5 1626.5M331.5 1698.5L331.5 1798.5M992.5 1698.5L992.5 1768.5L933.5 1768.5L933.5 1798.5M2044.5 1698.5L2044.5 1872.5L1909.5 1872.5M2267.5 1698.5L2267.5 1872.5L2674.5 1872.5M2587.5 1698.5L2587.5 1755.5M3036.5 1698.5L3036.5 1766.5M3307.5 1698.5L3307.5 1798.5M3862.5 1630.5L3768.5 1630.5L3768.5 1798.5M4042.5 1874.5L4087.5 1874.5M3290.5 1946.5L3290.5 1995.5M3771.5 1946.5L3771.5 1988.5M4128.5 1946.5L4128.5 1987.5"/>
</g>
<g fill="#fff" stroke="#000" stroke-width="6.3">
<path d="M1570.2 36H1617M2038.1 36H2084.9M2880.3 36H2927.1" stroke-width="8"/>
<path d="M2880.8 36V89M2928 36V89" stroke-width="7.9"/>
<circle cx="1570.2" cy="36" r="10.9"/><circle cx="1617" cy="36" r="10.9"/><circle cx="1663.8" cy="36" r="10.9"/><circle cx="1710.6" cy="36" r="10.9"/><circle cx="1757.4" cy="36" r="10.9"/><circle cx="1804.2" cy="36" r="10.9"/><circle cx="1850.9" cy="36" r="10.9"/><circle cx="1897.7" cy="36" r="10.9"/><circle cx="1944.5" cy="36" r="10.9"/><circle cx="1991.3" cy="36" r="10.9"/><circle cx="2038.1" cy="36" r="10.9"/><circle cx="2084.9" cy="36" r="10.9"/><circle cx="2131.7" cy="36" r="10.9"/><circle cx="2178.5" cy="36" r="10.9"/><circle cx="2225.3" cy="36" r="10.9"/><circle cx="2272.1" cy="36" r="10.9"/><circle cx="2318.8" cy="36" r="10.9"/><circle cx="2365.6" cy="36" r="10.9"/><circle cx="2412.4" cy="36" r="10.9"/><circle cx="2459.2" cy="36" r="10.9"/><circle cx="2506" cy="36" r="10.9"/><circle cx="2552.8" cy="36" r="10.9"/><circle cx="2599.6" cy="36" r="10.9"/><circle cx="2646.4" cy="36" r="10.9"/><circle cx="2693.2" cy="36" r="10.9"/><circle cx="2739.9" cy="36" r="10.9"/><circle cx="2786.7" cy="36" r="10.9"/><circle cx="2833.5" cy="36" r="10.9"/><circle cx="2880.3" cy="36" r="10.9"/><circle cx="2927.1" cy="36" r="10.9"/>
</g>
<g fill="#fff" stroke="#000" stroke-width="5.6">
<rect x="73.6" y="27.7" width="88.5" height="65.4" rx="31" ry="32.7"/>
<rect x="4256.5" y="26.5" width="88.5" height="65.4" rx="31" ry="32.7"/>
</g>
<circle cx="704.3" cy="59.9" r="28.6" fill="#fff" stroke="#000" stroke-width="1.1"/>
<path d="M669 60.3H738.5M704.4 24V94.5" stroke="#888" stroke-width="1.1" fill="none"/>
<g fill="none" stroke="#000" stroke-width="1">
<circle cx="124.5" cy="261.5" r="17"/><circle cx="345" cy="500" r="17"/><circle cx="793" cy="503" r="17"/><circle cx="1023" cy="262" r="17"/><circle cx="1587.5" cy="261" r="17"/><circle cx="1477" cy="503" r="17"/><circle cx="2153" cy="503" r="17"/><circle cx="2602" cy="261" r="17"/><circle cx="3281.5" cy="261" r="17"/><circle cx="2829.5" cy="503.5" r="17"/><circle cx="4288.5" cy="261" r="17"/><circle cx="3272.8" cy="503.5" r="17"/><circle cx="4064" cy="503.5" r="17"/><circle cx="345" cy="749" r="17"/><circle cx="1026" cy="749.5" r="17"/><circle cx="154" cy="1002.5" r="17"/><circle cx="915.5" cy="1001.5" r="17"/><circle cx="1702.5" cy="750" r="17"/><circle cx="1819" cy="1004" r="17"/><circle cx="2380.3" cy="750" r="17"/><circle cx="2717.5" cy="1004.5" r="17"/><circle cx="3284.5" cy="750" r="17"/><circle cx="4064" cy="750" r="17"/><circle cx="3615" cy="1003" r="17"/><circle cx="154" cy="1252.5" r="17"/><circle cx="969.5" cy="1252.5" r="17"/><circle cx="1205.5" cy="1252.5" r="17"/><circle cx="639" cy="1501.5" r="17"/><circle cx="1878.5" cy="1252" r="17"/><circle cx="1536.5" cy="1497.5" r="17"/><circle cx="1991" cy="1497" r="17"/><circle cx="2889.5" cy="1500" r="17"/><circle cx="3615" cy="1251.5" r="17"/><circle cx="3615" cy="1499.5" r="17"/><circle cx="4064" cy="1252" r="17"/><circle cx="4288.5" cy="1252" r="17"/><circle cx="414.5" cy="1750" r="17"/><circle cx="1247" cy="1748.5" r="17"/><circle cx="128" cy="1996.5" r="17"/><circle cx="642" cy="1996" r="17"/><circle cx="1926" cy="1748" r="17"/><circle cx="1539.5" cy="1996" r="17"/><circle cx="2380.5" cy="1996" r="17"/><circle cx="2440" cy="1748.5" r="17"/><circle cx="3231" cy="1748.5" r="17"/><circle cx="2918" cy="1996" r="17"/><circle cx="3615" cy="1747.5" r="17"/><circle cx="3615" cy="1996.5" r="17"/><circle cx="4063.5" cy="1748" r="17"/><circle cx="4294" cy="1996" r="17"/><circle cx="2776.5" cy="1252.5" r="14.5"/>
</g>
<g fill="none" stroke="#929292" stroke-width="1.3">
<path d="M104 261.5h41M124.5 241v41M324.5 500h41M345 479.5v41M772.5 503h41M793 482.5v41M1002.5 262h41M1023 241.5v41M1567 261h41M1587.5 240.5v41M1456.5 503h41M1477 482.5v41M2132.5 503h41M2153 482.5v41M2581.5 261h41M2602 240.5v41M3261 261h41M3281.5 240.5v41M2809 503.5h41M2829.5 483v41M4268 261h41M4288.5 240.5v41M3252.3 503.5h41M3272.8 483v41M4043.5 503.5h41M4064 483v41M324.5 749h41M345 728.5v41M1005.5 749.5h41M1026 729v41M133.5 1002.5h41M154 982v41M895 1001.5h41M915.5 981v41M1682 750h41M1702.5 729.5v41M1798.5 1004h41M1819 983.5v41M2359.8 750h41M2380.3 729.5v41M2697 1004.5h41M2717.5 984v41M3264 750h41M3284.5 729.5v41M4043.5 750h41M4064 729.5v41M3594.5 1003h41M3615 982.5v41M133.5 1252.5h41M154 1232v41M949 1252.5h41M969.5 1232v41M1185 1252.5h41M1205.5 1232v41M618.5 1501.5h41M639 1481v41M1858 1252h41M1878.5 1231.5v41M1516 1497.5h41M1536.5 1477v41M1970.5 1497h41M1991 1476.5v41M2869 1500h41M2889.5 1479.5v41M3594.5 1251.5h41M3615 1231v41M3594.5 1499.5h41M3615 1479v41M4043.5 1252h41M4064 1231.5v41M4268 1252h41M4288.5 1231.5v41M394 1750h41M414.5 1729.5v41M1226.5 1748.5h41M1247 1728v41M107.5 1996.5h41M128 1976v41M621.5 1996h41M642 1975.5v41M1905.5 1748h41M1926 1727.5v41M1519 1996h41M1539.5 1975.5v41M2360 1996h41M2380.5 1975.5v41M2419.5 1748.5h41M2440 1728v41M3210.5 1748.5h41M3231 1728v41M2897.5 1996h41M2918 1975.5v41M3594.5 1747.5h41M3615 1727v41M3594.5 1996.5h41M3615 1976v41M4043 1748h41M4063.5 1727.5v41M4273.5 1996h41M4294 1975.5v41M2758.5 1252.5h36M2776.5 1234.5v36"/>
</g>
<circle cx="2050.5" cy="293.5" r="8.6" fill="#000"/>
<path d="M1305.5 1650.5V1705.5" stroke="#fff" stroke-width="1.3" fill="none"/>
<g transform="translate(440,1810) scale(0.108944)" fill="none" stroke="#000" stroke-width="42" stroke-linecap="round" stroke-linejoin="round">
<path d="M2363 197V470M2363 197H2190M2363 330H2262"/>
<path d="M1925 245C1945 210 1975 197 2015 197C2075 197 2105 225 2105 262C2105 310 2050 325 2015 335C1970 348 1925 365 1925 405C1925 445 1965 470 2015 470C2055 470 2085 455 2105 430"/>
<path d="M1655 245C1675 210 1705 197 1745 197C1805 197 1835 225 1835 262C1835 310 1780 325 1745 335C1700 348 1655 365 1655 405C1655 445 1695 470 1745 470C1785 470 1815 455 1835 430"/>
<path d="M1563 197V470M1380 197L1563 368M1380 470L1482 292"/>
<ellipse cx="940" cy="333.5" rx="90" ry="136.5"/><path d="M880 248L1005 368"/>
<circle cx="752" cy="456" r="16" fill="#000"/>
<path d="M518 470V197L648 380H452"/>
<path d="M352 265C350 222 318 197 275 197C230 197 195 225 195 268C195 312 240 352 370 470H185"/>
<circle cx="2363" cy="742" r="11" fill="#000"/><path d="M2363 835V1012"/>
<path d="M2078 790C2095 760 2130 745 2170 745C2225 745 2265 770 2265 808C2265 850 2215 862 2170 872C2120 884 2075 897 2075 940C2075 978 2115 1000 2170 1000C2215 1000 2245 988 2265 962M2140 685V1060M2200 685V1060"/>
<path d="M1712 808C1710 765 1678 740 1635 740C1590 740 1555 768 1555 811C1555 855 1600 895 1735 1012H1545"/>
<ellipse cx="1365" cy="876" rx="90" ry="136"/><path d="M1305 792L1430 908"/>
<path d="M1122 1012V740L1190 790"/>
<path d="M865 790C880 755 915 740 950 740C1005 740 1040 790 1040 870V925C1040 975 1000 1012 950 1012C900 1012 862 975 862 925C862 875 900 838 950 838C1000 838 1040 875 1040 925"/>
</g>
</svg>
</body></html>
